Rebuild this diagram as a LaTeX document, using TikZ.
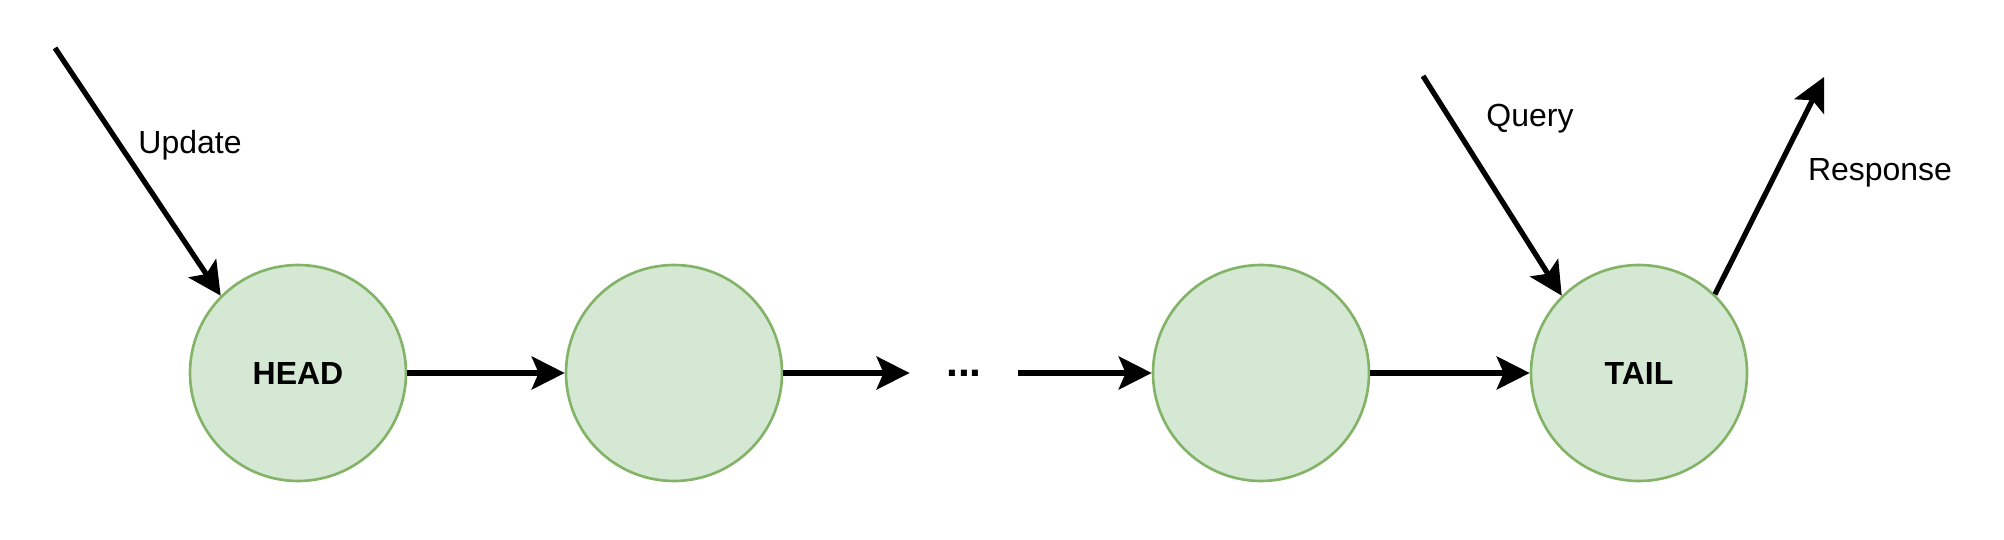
\documentclass[tikz,border=0pt]{standalone}
\usepackage{fontspec}
\setmainfont{Liberation Sans}
\usepackage{tikz}
\usetikzlibrary{arrows.meta,calc,positioning}
\definecolor{nodefill}{HTML}{D5E8D4}
\definecolor{nodeline}{HTML}{82B366}

\begin{document}
\begin{tikzpicture}[
	elem/.style={circle, fill=nodefill, draw=nodeline, line width=0.75pt, minimum size=2.16cm, inner sep=0pt, font=\fontsize{9.1}{11}\selectfont\bfseries},
	link/.style={line width=1.5pt, -{Stealth[length=0.33cm, width=0.33cm, inset=0.07cm]}},
	lbl/.style={font=\fontsize{9.1}{11}\selectfont, inner sep=0pt}]
		\useasboundingbox (0, 0) rectangle (20.04, 5.40);
\node[elem] (head) at (2.98, 1.67) {HEAD};
\node[elem] (n2) at (6.74, 1.67) {};
\node[font=\fontsize{12.1}{14}\selectfont\bfseries, inner xsep=0.36cm, inner ysep=0pt] (dots) at (9.64, 1.67) {...};
\node[elem] (n3) at (12.61, 1.67) {};
\node[elem] (tail) at (16.39, 1.67) {TAIL};
\coordinate (upd) at (0.55, 4.92);
\coordinate (qry) at (14.23, 4.64);
\coordinate (rsp) at (18.24, 4.63);
\draw[link] (head) -- (n2);
\draw[link] (n2) -- (dots.west |- n2);
\draw[link] (dots.east |- n3) -- (n3);
\draw[link] (n3) -- (tail);
\draw[link] (upd) -- (head.135);
\draw[link] (qry) -- (tail.135);
\draw[link] (tail.46) -- (rsp);
\node[lbl] (tupd) at (1.90, 3.95) {Update};
\node[lbl] (tqry) at (15.30, 4.21) {Query};
\node[lbl] (trsp) at (18.80, 3.67) {Response};
\end{tikzpicture}
\end{document}
